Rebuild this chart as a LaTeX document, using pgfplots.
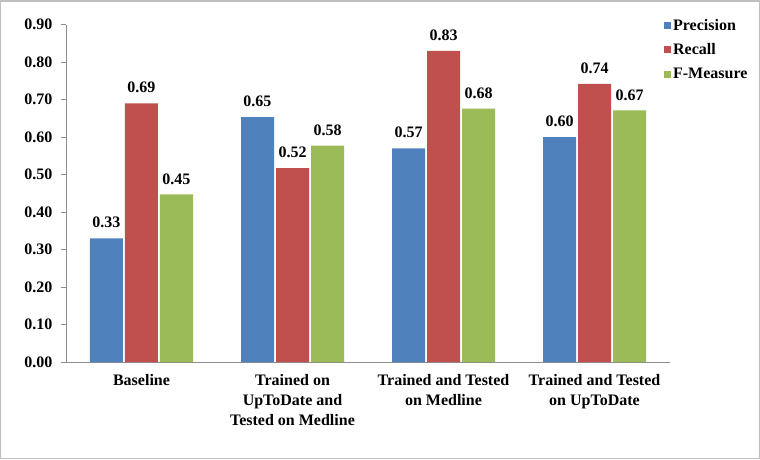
\documentclass[border=0pt]{standalone}
\usepackage{fontspec}
\setmainfont{Liberation Serif}
\usepackage{pgfplots}
\pgfplotsset{compat=1.18}
\definecolor{cBlue}{HTML}{4F81BD}
\definecolor{cRed}{HTML}{C0504D}
\definecolor{cGreen}{HTML}{9BBB59}
\definecolor{cAxis}{HTML}{8C8C8C}
\definecolor{cBorder}{HTML}{BFBFBF}
\newcommand{\cf}{\bfseries\fontsize{16}{20}\selectfont}
\begin{document}
\begin{tikzpicture}
\begin{axis}[
  at={(0pt,0pt)}, anchor=south west,
  scale only axis,
  width=604pt, height=337.5pt,
  xmin=-0.5, xmax=3.5,
  ymin=0, ymax=0.9,
  axis lines*=left,
  axis line style={cAxis, line width=0.8pt},
  ytick={0,0.1,0.2,0.3,0.4,0.5,0.6,0.7,0.8,0.9},
  yticklabel style={font=\cf, xshift=-5pt, /pgf/number format/fixed, /pgf/number format/fixed zerofill, /pgf/number format/precision=2, /pgf/number format/assume math mode=true},
  ytick style={cAxis, line width=0.8pt},
  tick align=outside,
  major tick length=5pt,
  xtick=data,
  xticklabels={Baseline, {Trained on\\UpToDate and\\Tested on Medline}, {Trained and Tested\\on Medline}, {Trained and Tested\\on UpToDate}},
  xticklabel style={font=\cf, align=center, yshift=-4pt},
  xtick style={draw=none},
  ybar, bar width=33pt,
  nodes near coords,
  nodes near coords style={font=\cf, yshift=6.5pt, /pgf/number format/fixed, /pgf/number format/fixed zerofill, /pgf/number format/precision=2, /pgf/number format/assume math mode=true},
  legend style={draw=none, fill=none, at={(0.985,1.029)}, anchor=north west, font=\cf, row sep=8pt, legend cell align=left},
  legend image code/.code={\fill[#1] (0pt,-3.5pt) rectangle (7pt,3.5pt);},
  clip=false,
]
\addplot[fill=cBlue, draw=none] coordinates {(0,0.330) (1,0.653) (2,0.570) (3,0.600)};
\addplot[fill=cRed, draw=none] coordinates {(0,0.690) (1,0.517) (2,0.830) (3,0.742)};
\addplot[fill=cGreen, draw=none] coordinates {(0,0.447) (1,0.577) (2,0.676) (3,0.671)};
\legend{Precision, Recall, F-Measure}
\end{axis}
\draw[cBorder, line width=1.5pt] (-65.25pt,-96.25pt) rectangle (693.25pt,361.25pt);
\end{tikzpicture}
\end{document}
